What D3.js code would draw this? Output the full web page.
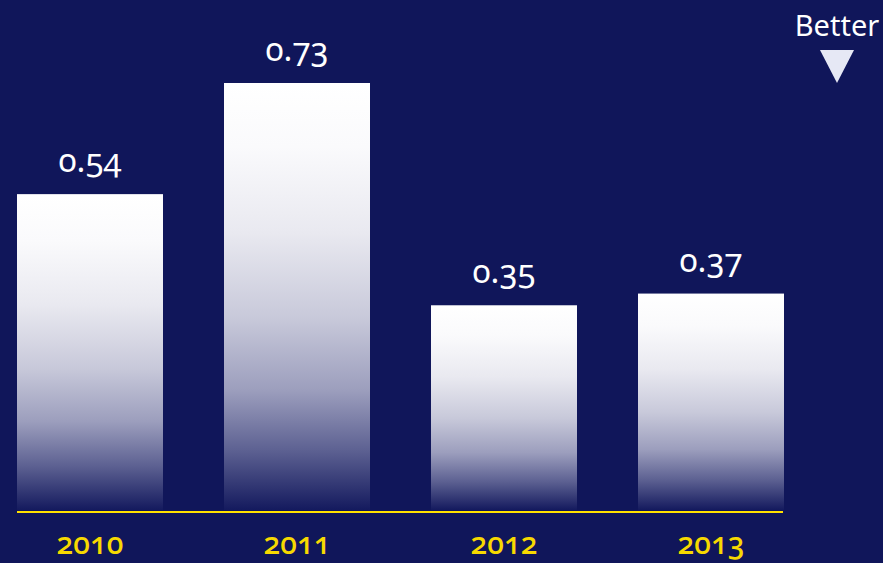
<!DOCTYPE html>
<html>
<head>
<meta charset="utf-8">
<script src="https://cdn.jsdelivr.net/npm/d3@7"></script>
<style>
  html, body { margin: 0; padding: 0; background: #10165a; }
  svg { display: block; }
  text { font-family: "Noto Sans", "Open Sans", sans-serif; font-variant-numeric: oldstyle-nums; font-feature-settings: "onum" 1; }
</style>
</head>
<body>
<script>
const years = ["2010", "2011", "2012", "2013"];
const values = [0.54, 0.73, 0.35, 0.37];
const valueLabels = ["0.54", "0.73", "0.35", "0.37"];
const betterLabel = "Better";

const W = 883, H = 563;
const svg = d3.select("body").append("svg").attr("width", W).attr("height", H);
svg.append("rect").attr("width", W).attr("height", H).attr("fill", "#10165a");

const defs = svg.append("defs");
const grad = defs.append("linearGradient").attr("id", "barGrad")
  .attr("x1", 0).attr("y1", 0).attr("x2", 0).attr("y2", 1);
[[0, "#ffffff"], [0.15, "#fafafc"], [0.35, "#e9e9f0"], [0.55, "#c8c9da"], [0.72, "#9c9ebd"], [0.86, "#5d6192"], [1, "#141a5e"]]
  .forEach(([o, c]) => grad.append("stop").attr("offset", o).attr("stop-color", c));

const x = d3.scaleBand().domain(years).range([17, 784]).paddingInner(0.2947).paddingOuter(0);
const y = d3.scaleLinear().domain([0, 0.73]).range([510, 83]);

const data = years.map((yr, i) => ({ yr, v: values[i], lab: valueLabels[i] }));

svg.selectAll("rect.bar").data(data).join("rect").attr("class", "bar")
  .attr("x", d => x(d.yr)).attr("width", x.bandwidth())
  .attr("y", d => y(d.v)).attr("height", d => y(0) - y(d.v))
  .attr("fill", "url(#barGrad)");

svg.append("line").attr("x1", 17).attr("x2", 783).attr("y1", 512).attr("y2", 512)
  .attr("stroke", "#ffe000").attr("stroke-width", 2);

svg.selectAll("text.val").data(data).join("text").attr("class", "val")
  .attr("x", d => x(d.yr) + x.bandwidth() / 2).attr("y", d => y(d.v) - 22)
  .attr("text-anchor", "middle").attr("fill", "#ffffff")
  .attr("font-size", 33).text(d => d.lab);

svg.selectAll("text.yr").data(data).join("text").attr("class", "yr")
  .attr("x", d => x(d.yr) + x.bandwidth() / 2).attr("y", 554)
  .attr("text-anchor", "middle").attr("fill", "#f7d900")
  .attr("font-size", 30).attr("font-weight", 500).text(d => d.yr);

svg.append("text").attr("x", 837).attr("y", 36).attr("text-anchor", "middle")
  .attr("fill", "#ffffff").attr("font-size", 29).text(betterLabel);

svg.append("path").attr("d", "M820,50 L854,50 L837,83 Z").attr("fill", "#e6e8f5");
</script>
</body>
</html>
